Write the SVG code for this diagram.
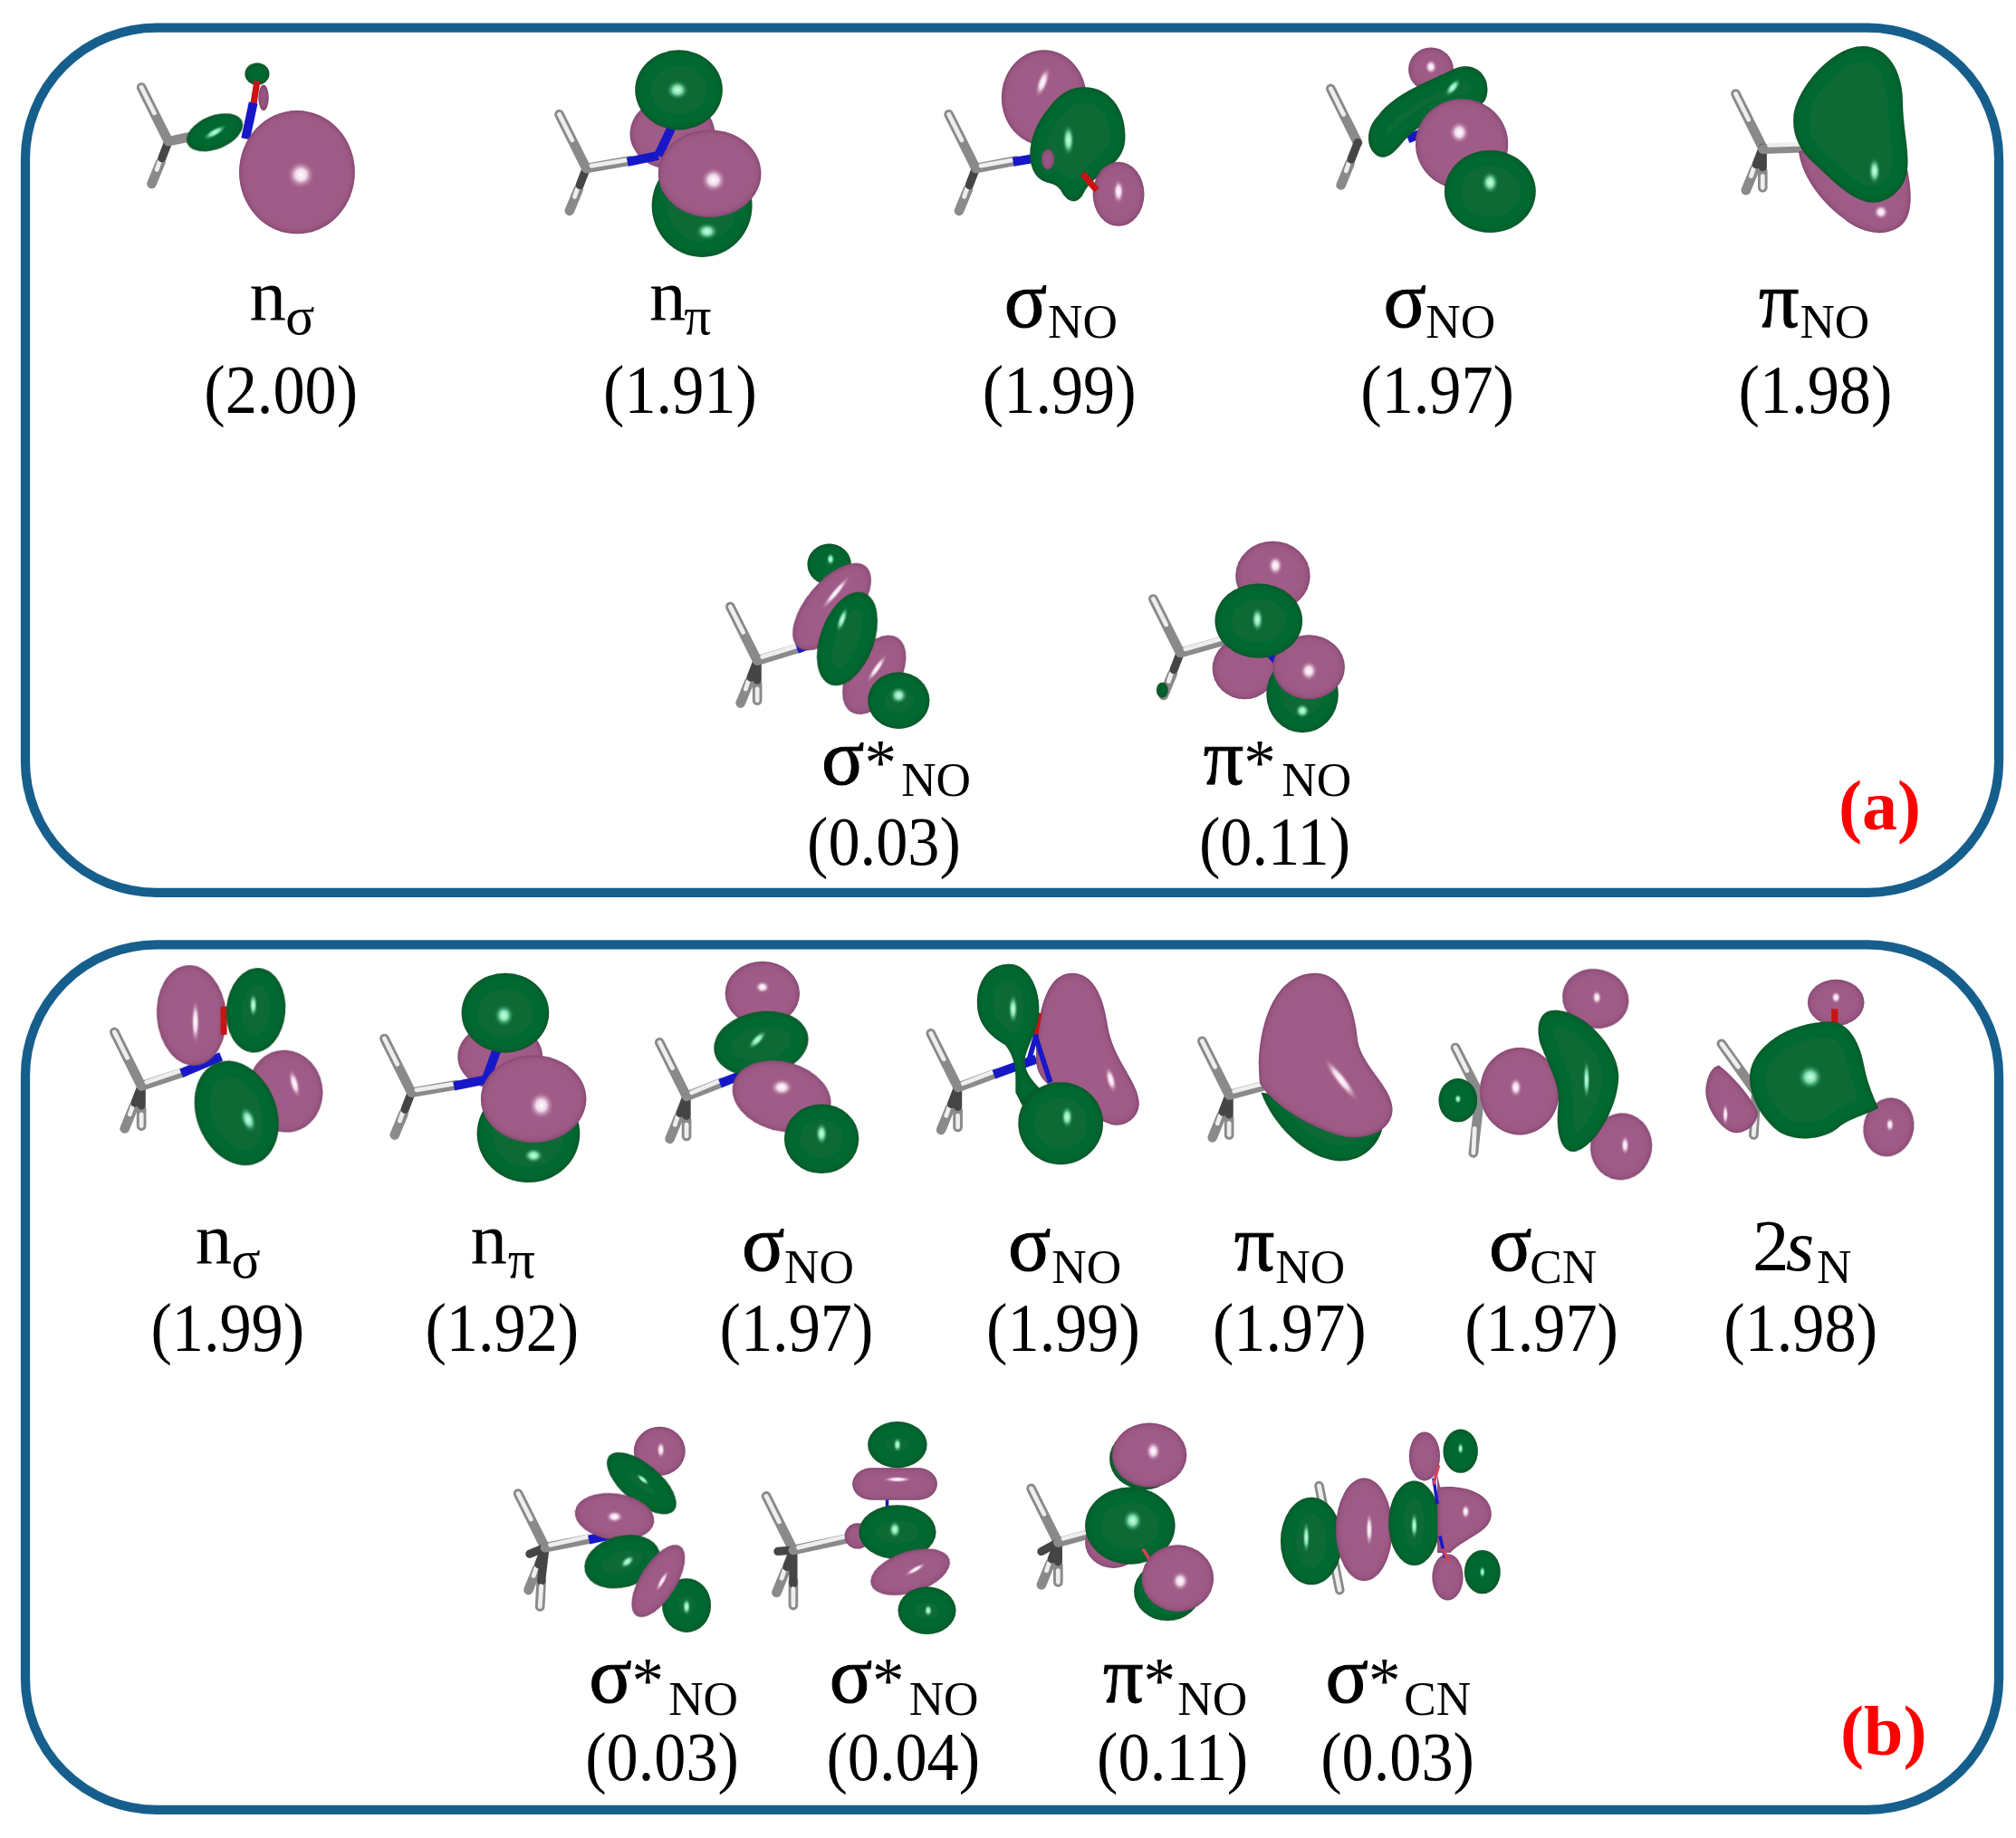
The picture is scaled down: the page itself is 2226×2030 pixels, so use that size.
<svg xmlns="http://www.w3.org/2000/svg" width="2226" height="2030" viewBox="0 0 2226 2030">
<style>
text{font-family:"Liberation Serif","Times New Roman",serif;fill:#000}
.m{font-size:57px}
.l{font-size:62px;stroke:#000;stroke-width:.7px}
.a{font-size:50px;stroke:none}
.s{font-size:37.5px;stroke:none}
.sg{font-size:42px;stroke:none}
.v{font-size:49.5px;text-anchor:middle}
.r{font-size:55px;font-weight:bold;fill:#f00;text-anchor:middle}
.g{fill:#086a34;filter:url(#sh)}
.p{fill:#a05c88;filter:url(#sh)}
.hg{fill:url(#hgg)}
.hp{fill:url(#hpg)}
.fr{fill:none;stroke:#165e8c;stroke-width:7.2}
.bd{stroke:#8a8a8a;stroke-width:7.5;fill:none;stroke-linecap:round}
.bi{stroke:#eeeeee;stroke-width:3.4;fill:none;stroke-linecap:round}
.dk{stroke:#454545;stroke-width:6.5;fill:none;stroke-linecap:round}
.n{stroke:#1717c8;stroke-width:7;fill:none}
.n2{stroke:#1717c8;stroke-width:4;fill:none}
.o{stroke:#c81414;stroke-width:5;fill:none}
.t{stroke:#1717c8;stroke-width:2.5;fill:none}
.u{stroke:#d8405a;stroke-width:2.5;fill:none}
</style>
<defs>
<filter id="sh" x="-15%" y="-15%" width="130%" height="130%">
<feGaussianBlur in="SourceAlpha" stdDeviation="1.8" result="b"/>
<feGaussianBlur in="SourceAlpha" stdDeviation="6" result="b2"/>
<feFlood flood-color="#1c1420" flood-opacity="0.6"/>
<feComposite in2="b" operator="out" result="e"/>
<feComposite in="e" in2="SourceAlpha" operator="in" result="e2"/>
<feFlood flood-color="#1c1420" flood-opacity="0.12"/>
<feComposite in2="b2" operator="out" result="f"/>
<feComposite in="f" in2="SourceAlpha" operator="in" result="f2"/>
<feMerge><feMergeNode in="SourceGraphic"/><feMergeNode in="f2"/><feMergeNode in="e2"/></feMerge>
</filter>
<radialGradient id="hgg"><stop offset="0" stop-color="#d4ffe8"/><stop offset=".4" stop-color="#8ff0c0" stop-opacity=".9"/><stop offset="1" stop-color="#086a34" stop-opacity="0"/></radialGradient>
<radialGradient id="hpg"><stop offset="0" stop-color="#fff"/><stop offset=".4" stop-color="#fbe6f4" stop-opacity=".9"/><stop offset="1" stop-color="#a05c88" stop-opacity="0"/></radialGradient>
<g id="me">
<line class="bd" x1="0" y1="0" x2="-21" y2="-42"/><line class="bi" x1="-11" y1="-22" x2="-21" y2="-42"/>
<line class="bd" x1="-6" y1="16" x2="-13" y2="33"/><line class="bi" x1="-7" y1="16" x2="-9" y2="22"/>
<line class="dk" x1="0" y1="0" x2="-5" y2="13"/>
</g>
<g id="me2">
<use href="#me"/>
<line class="bd" x1="0" y1="18" x2="0" y2="31"/><line class="bi" x1="0" y1="22" x2="0" y2="31"/>
<line class="dk" x1="0" y1="0" x2="0" y2="15"/>
</g>
</defs>
<rect width="2226" height="2030" fill="#fff"/>
<g transform="scale(1.4196)">

<g id="panel-a">
<rect class="fr" x="19.7" y="21.5" width="1535" height="673" rx="102" ry="102"/>
<g id="a1">
<use href="#me" transform="translate(131,110)"/>
<line class="bd" x1="131" y1="110" x2="150" y2="106"/>
<ellipse class="g" cx="167" cy="103" rx="23" ry="13" transform="rotate(-22 167 103)"/>
<ellipse class="hg" cx="167" cy="103" rx="11" ry="3.5" transform="rotate(-30 167 103)"/>
<ellipse class="g" cx="200" cy="57.5" rx="9.5" ry="8.5"/>
<ellipse class="p" cx="205" cy="76" rx="4" ry="10"/>
<line class="o" x1="200" y1="63" x2="197" y2="82"/><line class="n" x1="197" y1="80" x2="191" y2="108"/>
<ellipse class="p" cx="231" cy="134" rx="45" ry="48"/>
<ellipse class="hp" cx="234" cy="136" rx="11" ry="11"/>
<text class="m" x="194" y="249">n<tspan class="sg" x="222" y="260">σ</tspan></text>
<text class="v" transform="translate(218.5 321) scale(1 1.07)">(2.00)</text>
</g>
<g id="a2">
<use href="#me" transform="translate(456,131)"/>
<ellipse class="p" cx="523" cy="104" rx="33" ry="28"/>
<line class="bd" x1="456" y1="131" x2="490" y2="125"/><line class="bi" x1="460" y1="129" x2="490" y2="124"/><line class="n" x1="488" y1="126" x2="512" y2="121"/><line class="n" x1="512" y1="121" x2="522" y2="100"/>
<ellipse class="g" cx="546" cy="160" rx="39" ry="40"/>
<ellipse class="g" cx="528" cy="70" rx="34" ry="31"/>
<ellipse class="p" cx="552" cy="135" rx="40" ry="34"/>
<ellipse class="hg" cx="527" cy="70" rx="9" ry="8"/><ellipse class="hg" cx="550" cy="180" rx="9" ry="7"/><ellipse class="hp" cx="555" cy="140" rx="10" ry="10"/>
<text class="m" x="505" y="249">n<tspan class="sg" x="532" y="260">π</tspan></text>
<text class="v" transform="translate(529 321) scale(1 1.07)">(1.91)</text>
</g>
<g id="a3">
<use href="#me" transform="translate(759,131)"/>
<line class="bd" x1="759" y1="131" x2="790" y2="125"/><line class="bi" x1="763" y1="129" x2="790" y2="124"/><line class="n" x1="788" y1="126" x2="812" y2="122"/>
<ellipse class="p" cx="812" cy="76" rx="33" ry="37"/>
<path class="g" d="M840 68C862 66 877 85 875 110C873 130 850 135 843 150C838 160 830 158 825 148C820 140 812 145 805 135C797 122 802 100 815 85C822 75 830 69 840 68Z"/>
<ellipse class="p" cx="870" cy="151" rx="20" ry="25"/>
<ellipse class="p" cx="815" cy="124" rx="5" ry="8"/>
<line class="o" x1="842" y1="135" x2="853" y2="148"/>
<ellipse class="hp" cx="811" cy="64" rx="4.5" ry="13" transform="rotate(20 811 64)"/><ellipse class="hg" cx="831" cy="109" rx="5" ry="13"/><ellipse class="hp" cx="870" cy="149" rx="4.5" ry="10"/>
<text class="m l" x="781" y="254">σ<tspan class="s" x="815" y="263">NO</tspan></text>
<text class="v" transform="translate(824 321) scale(1 1.07)">(1.99)</text>
</g>
<g id="a4">
<use href="#me" transform="translate(1056,111)"/>
<ellipse class="p" cx="1113" cy="54" rx="17.5" ry="17"/>
<line class="n" x1="1095" y1="108" x2="1115" y2="100"/>
<path class="g" d="M1071 121C1062 115 1062 100 1072 90C1085 72 1115 62 1128 55C1140 48 1152 52 1156 63C1159 75 1155 85 1140 85C1120 85 1100 100 1090 112C1082 122 1076 124 1071 121Z"/>
<ellipse class="p" cx="1137" cy="112" rx="36" ry="35"/>
<ellipse class="g" cx="1159" cy="149" rx="35.5" ry="32"/>
<ellipse class="hp" cx="1113" cy="52" rx="5" ry="6"/><ellipse class="hg" cx="1130" cy="68" rx="9" ry="4" transform="rotate(-50 1130 68)"/><ellipse class="hp" cx="1135" cy="103" rx="8" ry="9"/><ellipse class="hg" cx="1159" cy="142" rx="7" ry="9"/>
<text class="m l" x="1076" y="254">σ<tspan class="s" x="1109" y="263">NO</tspan></text>
<text class="v" transform="translate(1118 321) scale(1 1.07)">(1.97)</text>
</g>
<g id="a5">
<use href="#me2" transform="translate(1371,115)"/>
<line class="bd" x1="1371" y1="116" x2="1402" y2="115"/><line class="bi" x1="1376" y1="113" x2="1402" y2="112"/>
<path class="p" d="M1399 118C1402 140 1420 160 1434 170C1445 180 1465 186 1478 176C1488 168 1488 150 1482 125L1478 100Z"/>
<path class="g" d="M1449 36C1468 36 1480 55 1480 80C1480 100 1486 120 1483 135C1480 150 1465 160 1452 157C1438 154 1425 140 1412 128C1400 118 1394 105 1395 92C1396 70 1425 36 1449 36Z"/>
<ellipse class="hg" cx="1458" cy="133" rx="5" ry="11"/><ellipse class="hp" cx="1463" cy="165" rx="6" ry="6"/>
<text class="m l" x="1368" y="254">π<tspan class="s" x="1400" y="263">NO</tspan></text>
<text class="v" transform="translate(1412 321) scale(1 1.07)">(1.98)</text>
</g>
<g id="a6">
<use href="#me2" transform="translate(589,514)"/>
<line class="bd" x1="589" y1="514" x2="622" y2="504"/><line class="bi" x1="593" y1="511" x2="622" y2="502"/><line class="n" x1="620" y1="505" x2="634" y2="500"/>
<ellipse class="g" cx="645" cy="439" rx="17" ry="16"/>
<ellipse class="p" cx="647" cy="472" rx="41" ry="20" transform="rotate(-50 647 472)"/>
<ellipse class="p" cx="680" cy="525" rx="34" ry="20" transform="rotate(-58 680 525)"/>
<ellipse class="g" cx="659" cy="497" rx="38" ry="21" transform="rotate(-70 659 497)"/>
<ellipse class="g" cx="699" cy="545" rx="24" ry="22"/>
<ellipse class="hp" cx="650" cy="461" rx="18" ry="3" transform="rotate(-50 650 461)"/><ellipse class="hg" cx="655" cy="482" rx="11" ry="3.5" transform="rotate(-70 655 482)"/><ellipse class="hp" cx="682" cy="520" rx="14" ry="3" transform="rotate(-55 682 520)"/><ellipse class="hg" cx="699" cy="541" rx="7" ry="7"/><ellipse class="hg" cx="646" cy="435" rx="3.5" ry="5"/>
<text class="m l" x="639" y="610">σ<tspan class="a">*</tspan><tspan class="s" x="701" y="619">NO</tspan></text>
<text class="v" transform="translate(687.5 673) scale(1 1.07)">(0.03)</text>
</g>
<g id="a7">
<use href="#me" transform="translate(918,508)"/>
<line class="bd" x1="918" y1="508" x2="950" y2="499"/><line class="bi" x1="922" y1="505" x2="950" y2="497"/>
<ellipse class="g" cx="904" cy="537" rx="4.5" ry="6"/>
<ellipse class="p" cx="990" cy="448" rx="29" ry="27"/>
<ellipse class="p" cx="968" cy="520" rx="25" ry="24"/>
<ellipse class="g" cx="1013" cy="540" rx="28" ry="30"/>
<line class="n" x1="985" y1="505" x2="995" y2="516"/>
<ellipse class="p" cx="1018" cy="519" rx="28" ry="25"/>
<ellipse class="g" cx="979" cy="483" rx="34" ry="29"/>
<ellipse class="hp" cx="992" cy="440" rx="6" ry="8"/><ellipse class="hg" cx="978" cy="482" rx="5" ry="10"/><ellipse class="hp" cx="1018" cy="522" rx="7" ry="8"/><ellipse class="hg" cx="1013" cy="553" rx="6" ry="6"/>
<text class="m l" x="936" y="610">π<tspan class="a">*</tspan><tspan class="s" x="997" y="619">NO</tspan></text>
<text class="v" transform="translate(991.5 673) scale(1 1.07)">(0.11)</text>
</g>
<text class="r" x="1462" y="645">(a)</text>
</g>

<g id="panel-b">
<rect class="fr" x="19.7" y="735" width="1535" height="673" rx="102" ry="102"/>
<g id="b1">
<use href="#me2" transform="translate(110,845)"/>
<line class="bd" x1="110" y1="845" x2="143" y2="834"/><line class="bi" x1="114" y1="842" x2="143" y2="832"/><line class="n" x1="141" y1="835" x2="172" y2="822"/>
<ellipse class="p" cx="149" cy="790" rx="27" ry="39" transform="rotate(-5 149 790)"/>
<line class="o" x1="174" y1="783" x2="174" y2="805"/>
<ellipse class="g" cx="199" cy="786" rx="23" ry="33" transform="rotate(5 199 786)"/>
<ellipse class="p" cx="222" cy="849" rx="29" ry="32" transform="rotate(-10 222 849)"/>
<ellipse class="g" cx="184" cy="866" rx="31" ry="42" transform="rotate(-22 184 866)"/>
<ellipse class="hp" cx="152" cy="795" rx="3.5" ry="18"/><ellipse class="hg" cx="197" cy="782" rx="3.5" ry="10"/><ellipse class="hp" cx="229" cy="843" rx="4" ry="12" transform="rotate(-15 229 843)"/><ellipse class="hg" cx="193" cy="871" rx="6" ry="11" transform="rotate(-20 193 871)"/>
<text class="m" x="152" y="983">n<tspan class="sg" x="180" y="994">σ</tspan></text>
<text class="v" transform="translate(177 1051) scale(1 1.07)">(1.99)</text>
</g>
<g id="b2">
<use href="#me" transform="translate(320,850)"/>
<ellipse class="p" cx="389" cy="822" rx="33" ry="26"/>
<line class="bd" x1="320" y1="850" x2="355" y2="844"/><line class="bi" x1="324" y1="848" x2="355" y2="843"/><line class="n" x1="353" y1="845" x2="378" y2="840"/><line class="n" x1="378" y1="840" x2="387" y2="815"/>
<ellipse class="g" cx="411" cy="882" rx="40" ry="38"/>
<ellipse class="g" cx="393" cy="788" rx="34" ry="31"/>
<ellipse class="p" cx="415" cy="855" rx="41" ry="34"/>
<ellipse class="hg" cx="392" cy="790" rx="8" ry="9"/><ellipse class="hg" cx="415" cy="899" rx="8" ry="6"/><ellipse class="hp" cx="421" cy="860" rx="10" ry="11"/>
<text class="m" x="366" y="983">n<tspan class="sg" x="395" y="994">π</tspan></text>
<text class="v" transform="translate(390.5 1051) scale(1 1.07)">(1.92)</text>
</g>
<g id="b3">
<use href="#me2" transform="translate(534,853)"/>
<line class="bd" x1="534" y1="853" x2="562" y2="842"/><line class="bi" x1="538" y1="850" x2="562" y2="840"/><line class="n" x1="560" y1="843" x2="578" y2="836"/>
<ellipse class="p" cx="593" cy="773" rx="29" ry="25"/>
<ellipse class="g" cx="592" cy="812" rx="37" ry="25" transform="rotate(-10 592 812)"/>
<ellipse class="p" cx="608" cy="853" rx="39" ry="27" transform="rotate(15 608 853)"/>
<ellipse class="g" cx="639" cy="886" rx="29" ry="27"/>
<ellipse class="hp" cx="593" cy="768" rx="6" ry="5"/><ellipse class="hg" cx="589" cy="809" rx="10" ry="4" transform="rotate(-45 589 809)"/><ellipse class="hp" cx="608" cy="846" rx="9" ry="7"/><ellipse class="hg" cx="639" cy="882" rx="5" ry="9"/>
<text class="m l" x="577" y="988">σ<tspan class="s" x="610" y="998">NO</tspan></text>
<text class="v" transform="translate(619.5 1051) scale(1 1.07)">(1.97)</text>
</g>
<g id="b4">
<use href="#me2" transform="translate(745,846)"/>
<line class="bd" x1="745" y1="846" x2="775" y2="835"/><line class="bi" x1="749" y1="843" x2="775" y2="833"/><line class="n" x1="773" y1="836" x2="806" y2="824"/>
<path class="p" d="M834 757C850 757 858 775 861 795C865 825 885 840 886 858C886 870 875 877 865 875C850 870 845 865 835 858C820 848 806 840 806 825C806 800 810 757 834 757Z"/>
<line class="o" x1="808" y1="788" x2="805" y2="805"/><line class="n2" x1="805" y1="805" x2="817" y2="842"/><line class="n2" x1="800" y1="826" x2="806" y2="805"/>
<path class="g" d="M785 750C800 750 810 770 808 790C806 805 798 815 797 825C797 835 804 842 810 848L795 860L790 850C790 835 791 825 782 813C768 805 760 795 760 780C760 762 770 750 785 750Z"/>
<ellipse class="g" cx="825" cy="874" rx="33" ry="32"/>
<ellipse class="hg" cx="788" cy="785" rx="4" ry="12"/><ellipse class="hp" cx="864" cy="840" rx="4" ry="11" transform="rotate(-15 864 840)"/><ellipse class="hg" cx="830" cy="869" rx="5" ry="9"/>
<text class="m l" x="784" y="988">σ<tspan class="s" x="818" y="998">NO</tspan></text>
<text class="v" transform="translate(827 1051) scale(1 1.07)">(1.99)</text>
</g>
<g id="b5">
<use href="#me2" transform="translate(956,852)"/>
<line class="bd" x1="956" y1="852" x2="986" y2="844"/><line class="bi" x1="960" y1="849" x2="986" y2="842"/>
<path class="g" d="M981 850C990 875 1015 900 1039 903C1055 905 1072 895 1076 875L1060 860Z"/>
<path class="p" d="M1023 757C1045 757 1054 785 1056 810C1060 830 1082 845 1083 862C1084 880 1062 888 1045 884C1020 878 990 860 980 843C976 815 985 757 1023 757Z"/>
<ellipse class="hp" cx="1043" cy="840" rx="22" ry="4.5" transform="rotate(52 1043 840)"/>
<text class="m l" x="960" y="988">π<tspan class="s" x="992" y="998">NO</tspan></text>
<text class="v" transform="translate(1003 1051) scale(1 1.07)">(1.97)</text>
</g>
<g id="b6">
<line class="bd" x1="1132" y1="815" x2="1151" y2="852"/><line class="bi" x1="1132" y1="815" x2="1141" y2="833"/>
<line class="bd" x1="1151" y1="852" x2="1146" y2="897"/><line class="bi" x1="1147" y1="878" x2="1146" y2="897"/>
<ellipse class="g" cx="1134" cy="856" rx="15" ry="17"/>
<ellipse class="p" cx="1182" cy="849" rx="31" ry="34"/>
<ellipse class="p" cx="1241" cy="777" rx="26" ry="23" transform="rotate(15 1241 777)"/>
<ellipse class="p" cx="1261" cy="892" rx="24" ry="26" transform="rotate(8 1261 892)"/>
<path class="g" d="M1209 786C1198 786 1194 797 1198 812C1205 830 1214 845 1212 860C1210 878 1213 896 1224 896C1238 895 1258 865 1259 838C1259 815 1232 786 1209 786Z"/>
<ellipse class="hp" cx="1179" cy="846" rx="5" ry="8"/><ellipse class="hg" cx="1134" cy="855" rx="3" ry="4"/><ellipse class="hg" cx="1234" cy="840" rx="3" ry="16"/><ellipse class="hp" cx="1242" cy="776" rx="4" ry="6"/><ellipse class="hp" cx="1264" cy="891" rx="3.5" ry="8"/>
<text class="m l" x="1158" y="988">σ<tspan class="s" x="1190" y="998">CN</tspan></text>
<text class="v" transform="translate(1199 1051) scale(1 1.07)">(1.97)</text>
</g>
<g id="b7">
<line class="bd" x1="1339" y1="812" x2="1366" y2="850"/><line class="bi" x1="1339" y1="812" x2="1352" y2="830"/>
<line class="bd" x1="1366" y1="850" x2="1364" y2="883"/><line class="bi" x1="1365" y1="870" x2="1364" y2="883"/>
<path class="p" d="M1337 829C1345 835 1360 850 1367 865C1368 875 1355 885 1345 880C1332 872 1325 855 1327 845C1328 838 1331 830 1337 829Z"/>
<ellipse class="p" cx="1428" cy="780" rx="22" ry="18"/>
<line class="o" x1="1427" y1="785" x2="1427" y2="797"/>
<ellipse class="p" cx="1469" cy="877" rx="19.5" ry="23" transform="rotate(15 1469 877)"/>
<path class="g" d="M1424 795C1438 795 1447 812 1450 830C1453 845 1458 855 1461 862C1450 868 1438 870 1429 878C1415 888 1395 888 1383 880C1368 868 1360 850 1361 836C1363 815 1390 795 1424 795Z"/>
<ellipse class="hg" cx="1408" cy="838" rx="10" ry="10"/><ellipse class="hp" cx="1428" cy="776" rx="4" ry="5"/><ellipse class="hp" cx="1470" cy="875" rx="3.5" ry="6"/><ellipse class="hp" cx="1342" cy="867" rx="2.5" ry="9"/>
<text class="m" x="1363" y="988">2<tspan font-style="italic" x="1389">s</tspan><tspan class="s" x="1413" y="998">N</tspan></text>
<text class="v" transform="translate(1400.5 1051) scale(1 1.07)">(1.98)</text>
</g>
<g id="b8">
<use href="#me" transform="translate(424,1204)"/>
<line class="bd" x1="421" y1="1230" x2="420" y2="1250"/><line class="dk" x1="424" y1="1204" x2="421" y2="1230"/><line class="bi" x1="421" y1="1234" x2="420" y2="1250"/>
<line class="dk" x1="412" y1="1209" x2="424" y2="1204" stroke-width="8"/>
<line class="bd" x1="424" y1="1204" x2="460" y2="1197"/><line class="bi" x1="428" y1="1202" x2="460" y2="1195"/>
<line class="n" x1="458" y1="1198" x2="494" y2="1190"/>
<ellipse class="p" cx="513" cy="1129" rx="20" ry="19"/>
<ellipse class="g" cx="499" cy="1154" rx="33" ry="15" transform="rotate(40 499 1154)"/>
<ellipse class="p" cx="478" cy="1180" rx="31" ry="18" transform="rotate(8 478 1180)"/>
<ellipse class="g" cx="484" cy="1215" rx="30" ry="20" transform="rotate(-15 484 1215)"/>
<ellipse class="g" cx="534" cy="1249" rx="19" ry="21"/>
<ellipse class="p" cx="512" cy="1230" rx="32" ry="14" transform="rotate(-58 512 1230)"/>
<ellipse class="hp" cx="514" cy="1128" rx="3.5" ry="7"/><ellipse class="hg" cx="500" cy="1151" rx="7" ry="2.5" transform="rotate(40 500 1151)"/><ellipse class="hp" cx="478" cy="1180" rx="7" ry="5"/><ellipse class="hg" cx="488" cy="1215" rx="7" ry="4" transform="rotate(-40 488 1215)"/><ellipse class="hp" cx="515" cy="1230" rx="10" ry="2.5" transform="rotate(-60 515 1230)"/><ellipse class="hg" cx="534" cy="1250" rx="3.5" ry="7"/>
<text class="m l" x="458" y="1324">σ<tspan class="a">*</tspan><tspan class="s" x="520" y="1334">NO</tspan></text>
<text class="v" transform="translate(515 1385) scale(1 1.07)">(0.03)</text>
</g>
<g id="b9">
<use href="#me" transform="translate(617,1206)"/>
<line class="bd" x1="617" y1="1230" x2="617" y2="1249"/><line class="dk" x1="617" y1="1206" x2="617" y2="1232"/><line class="bi" x1="617" y1="1236" x2="617" y2="1249"/>
<line class="dk" x1="605" y1="1207" x2="617" y2="1206" stroke-width="8"/>
<line class="bd" x1="617" y1="1206" x2="664" y2="1196"/><line class="bi" x1="621" y1="1204" x2="664" y2="1194"/>
<ellipse class="p" cx="667" cy="1195" rx="10" ry="10"/>
<ellipse class="g" cx="698" cy="1124" rx="23" ry="18"/>
<line class="t" x1="690" y1="1164" x2="690" y2="1176"/><line class="t" x1="695" y1="1210" x2="700" y2="1220"/>
<rect class="p" x="663" y="1142" width="66" height="25" rx="15" ry="12.5"/>
<ellipse class="g" cx="698" cy="1192" rx="30" ry="21"/>
<ellipse class="p" cx="708" cy="1223" rx="32" ry="16" transform="rotate(-18 708 1223)"/>
<ellipse class="g" cx="721" cy="1253" rx="22.5" ry="18.5"/>
<ellipse class="hg" cx="698" cy="1124" rx="3.5" ry="6"/><ellipse class="hp" cx="698" cy="1151" rx="12" ry="2.5"/><ellipse class="hg" cx="696" cy="1190" rx="5" ry="7"/><ellipse class="hp" cx="712" cy="1221" rx="10" ry="2.5" transform="rotate(-30 712 1221)"/><ellipse class="hg" cx="722" cy="1253" rx="3.5" ry="5"/>
<text class="m l" x="645" y="1324">σ<tspan class="a">*</tspan><tspan class="s" x="707" y="1334">NO</tspan></text>
<text class="v" transform="translate(702.5 1385) scale(1 1.07)">(0.04)</text>
</g>
<g id="b10">
<use href="#me2" transform="translate(823,1200)"/>
<line class="dk" x1="810" y1="1207" x2="823" y2="1200" stroke-width="8"/>
<line class="bd" x1="823" y1="1200" x2="849" y2="1193"/><line class="bi" x1="827" y1="1197" x2="849" y2="1191"/>
<ellipse class="g" cx="890" cy="1135" rx="27" ry="24"/>
<ellipse class="p" cx="894" cy="1132" rx="29" ry="25"/>
<ellipse class="p" cx="866" cy="1200" rx="22" ry="20"/>
<ellipse class="g" cx="879" cy="1187" rx="35" ry="30"/>
<line class="u" x1="889" y1="1205" x2="897" y2="1218"/>
<ellipse class="g" cx="908" cy="1238" rx="26" ry="23"/>
<ellipse class="p" cx="916" cy="1228" rx="28" ry="26"/>
<ellipse class="hp" cx="897" cy="1129" rx="6" ry="8"/><ellipse class="hg" cx="881" cy="1183" rx="8" ry="9"/><ellipse class="hp" cx="918" cy="1230" rx="7" ry="8"/>
<text class="m l" x="858" y="1324">π<tspan class="a">*</tspan><tspan class="s" x="916" y="1334">NO</tspan></text>
<text class="v" transform="translate(912 1385) scale(1 1.07)">(0.11)</text>
</g>
<g id="b11">
<line class="bd" x1="1026" y1="1156" x2="1042" y2="1237"/><line class="bi" x1="1026" y1="1156" x2="1042" y2="1237"/>
<ellipse class="g" cx="1020" cy="1199" rx="24" ry="34"/>
<ellipse class="p" cx="1061" cy="1190" rx="22" ry="40"/>
<ellipse class="g" cx="1100" cy="1185" rx="20" ry="33"/>
<ellipse class="g" cx="1136" cy="1129" rx="13.5" ry="17"/>
<ellipse class="g" cx="1153" cy="1223" rx="14" ry="17"/>
<g class="p">
<ellipse cx="1108" cy="1133" rx="12" ry="19"/>
<path d="M1118 1148L1120 1157C1135 1155 1160 1160 1160 1178C1160 1192 1140 1196 1128 1208L1118 1208Z"/>
<ellipse cx="1126" cy="1227" rx="12" ry="18"/>
</g>
<line class="t" x1="1115" y1="1150" x2="1118" y2="1170"/><line class="u" x1="1119" y1="1140" x2="1115" y2="1155"/>
<line class="t" x1="1120" y1="1195" x2="1124" y2="1212"/><line class="u" x1="1122" y1="1205" x2="1127" y2="1215"/>
<ellipse class="hg" cx="1016" cy="1196" rx="3" ry="13"/><ellipse class="hp" cx="1065" cy="1190" rx="3" ry="14"/><ellipse class="hg" cx="1100" cy="1187" rx="3" ry="11"/><ellipse class="hp" cx="1140" cy="1176" rx="3.5" ry="6"/><ellipse class="hg" cx="1153" cy="1223" rx="2.5" ry="5"/><ellipse class="hg" cx="1136" cy="1127" rx="2.5" ry="5"/>
<text class="m l" x="1031" y="1324">σ<tspan class="a">*</tspan><tspan class="s" x="1092" y="1334">CN</tspan></text>
<text class="v" transform="translate(1087 1385) scale(1 1.07)">(0.03)</text>
</g>
<text class="r" x="1465" y="1365">(b)</text>
</g>
</g>
</svg>
